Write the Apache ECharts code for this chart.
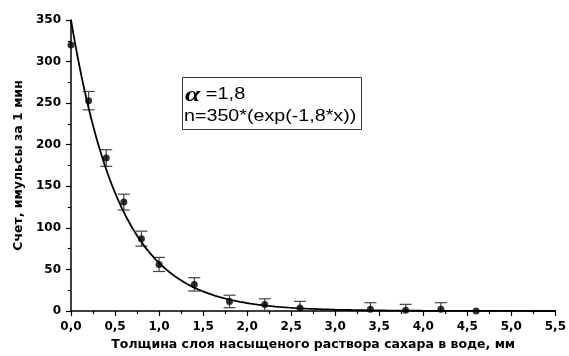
<!DOCTYPE html>
<html>
<head>
<meta charset="utf-8">
<script src="https://cdn.jsdelivr.net/npm/echarts@6/dist/echarts.min.js"></script>
<style>
  html, body { margin: 0; padding: 0; background: #fff; }
  #chart { width: 569px; height: 356px; }
</style>
</head>
<body>
<div id="chart"></div>
<script>
// Measured counts vs. thickness of the saturated sugar solution layer
const thickness = [0, 0.2, 0.4, 0.6, 0.8, 1.0, 1.4, 1.8, 2.2, 2.6, 3.4, 3.8, 4.2, 4.6];
const counts = [320, 253, 184, 131, 87, 56, 32, 11.5, 7.7, 3.6, 2, 1, 2, 0];
const countErrors = [0, 11, 10, 9.5, 9, 8.5, 8, 7.5, 7, 8, 8, 7, 8, 0];

// Exponential fit n = N0 * exp(-alpha * x)
const fitN0 = 350;
const fitAlpha = 1.8;

// Axis ranges
const xTicks = [0, 0.5, 1, 1.5, 2, 2.5, 3, 3.5, 4, 4.5, 5, 5.5];
const yTicks = [0, 50, 100, 150, 200, 250, 300, 350];

const fitCurve = [];
for (let i = 0; i <= 275; i++) {
  const x = i * 0.02;
  fitCurve.push([x, fitN0 * Math.exp(-fitAlpha * x)]);
}

const points = thickness.map((x, i) => [x, counts[i], countErrors[i]]);

const chart = echarts.init(document.getElementById('chart'), null, { renderer: 'canvas' });

const axisFont = { fontFamily: 'DejaVu Sans', fontWeight: 'bold', fontSize: 12, color: '#000' };
const nameFont = { fontFamily: 'DejaVu Sans', fontWeight: 'bold', fontSize: 12.5, color: '#000' };

chart.setOption({
  animation: false,
  backgroundColor: '#fff',
  grid: { left: 71, right: 12, top: 20, bottom: 45 },
  xAxis: {
    type: 'value',
    min: xTicks[0],
    max: xTicks[xTicks.length - 1],
    interval: 0.5,
    name: 'Толщина слоя насыщеного раствора сахара в воде, мм',
    nameLocation: 'middle',
    nameGap: 23,
    nameTextStyle: nameFont,
    axisLine: { show: true, onZero: false, lineStyle: { color: '#000', width: 1.5 } },
    axisTick: { show: true, inside: false, length: 5, lineStyle: { color: '#000', width: 1.2 } },
    minorTick: { show: true, splitNumber: 2, length: 3, lineStyle: { color: '#000', width: 1.2 } },
    splitLine: { show: false },
    axisLabel: Object.assign({ margin: 10, formatter: v => v.toFixed(1).replace('.', ',') }, axisFont)
  },
  yAxis: {
    type: 'value',
    min: yTicks[0],
    max: yTicks[yTicks.length - 1],
    interval: 50,
    name: 'Счет, имульсы за 1 мин',
    nameLocation: 'middle',
    nameGap: 45,
    nameTextStyle: nameFont,
    axisLine: { show: true, onZero: false, lineStyle: { color: '#000', width: 1.5 } },
    axisTick: { show: true, inside: false, length: 5, lineStyle: { color: '#000', width: 1.2 } },
    minorTick: { show: true, splitNumber: 2, length: 3, lineStyle: { color: '#000', width: 1.2 } },
    splitLine: { show: false },
    axisLabel: Object.assign({ margin: 10, formatter: v => String(v) }, axisFont)
  },
  graphic: [
    {
      type: 'rect',
      left: 182, top: 77,
      shape: { width: 179, height: 52 },
      style: { fill: '#fff', stroke: '#333', lineWidth: 1 },
      z: 10
    },
    {
      type: 'text',
      x: 185, y: 84,
      scaleX: 1.25,
      z: 11,
      style: {
        text: '{a|α}{t| =1,8}',
        rich: {
          a: { fontFamily: 'Liberation Serif', fontStyle: 'italic', fontWeight: 'bold', fontSize: 22, fill: '#000' },
          t: { fontFamily: 'Liberation Sans', fontSize: 16, fill: '#000' }
        }
      }
    },
    {
      type: 'text',
      x: 184, y: 109,
      scaleX: 1.23,
      z: 11,
      style: {
        text: 'n=' + fitN0 + '*(exp(-' + String(fitAlpha).replace('.', ',') + '*x))',
        fontFamily: 'Liberation Sans', fontSize: 16, fill: '#000'
      }
    }
  ],
  series: [
    {
      type: 'line',
      data: fitCurve,
      showSymbol: false,
      smooth: false,
      lineStyle: { color: '#000', width: 1.8 },
      z: 3,
      silent: true
    },
    {
      type: 'custom',
      data: points,
      clip: true,
      z: 2,
      renderItem: (params, api) => {
        const err = api.value(2);
        if (!err) return null;
        const x = api.value(0), y = api.value(1);
        const top = api.coord([x, y + err]);
        const bot = api.coord([x, y - err]);
        const cap = 6;
        const st = { stroke: '#444', lineWidth: 1.2 };
        return {
          type: 'group',
          children: [
            { type: 'line', shape: { x1: top[0], y1: top[1], x2: bot[0], y2: bot[1] }, style: st },
            { type: 'line', shape: { x1: top[0] - cap, y1: top[1], x2: top[0] + cap, y2: top[1] }, style: st },
            { type: 'line', shape: { x1: bot[0] - cap, y1: bot[1], x2: bot[0] + cap, y2: bot[1] }, style: st }
          ]
        };
      }
    },
    {
      type: 'scatter',
      data: points.map(p => [p[0], p[1]]),
      symbol: 'circle',
      symbolSize: 7,
      itemStyle: { color: '#000' },
      z: 4
    }
  ]
});
</script>
</body>
</html>
